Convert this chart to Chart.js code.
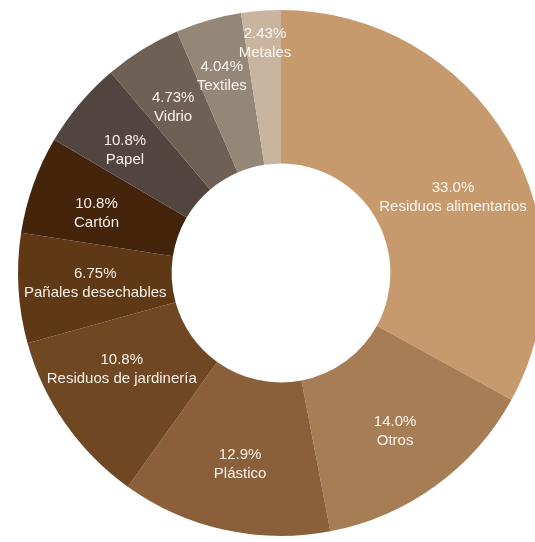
<!DOCTYPE html>
<html>
<head>
<meta charset="utf-8">
<script src="https://cdn.jsdelivr.net/npm/chart.js@4"></script>
<style>
  html, body { margin: 0; padding: 0; background: #ffffff; overflow: hidden; width: 535px; height: 542px; }
  #wrap { position: absolute; left: 0; top: 0; width: 562px; height: 546px; }
</style>
</head>
<body>
<div id="wrap"><canvas id="c" width="562" height="546"></canvas></div>
<script>
// Categories, clockwise from the top
const categories = [
  "Residuos alimentarios", "Otros", "Plástico", "Residuos de jardinería",
  "Pañales desechables", "Cartón", "Papel", "Vidrio", "Textiles", "Metales"
];
// Slice sizes (percent of total)
const sliceValues = [33.0, 14.0, 12.9, 10.8, 6.75, 6.0, 5.35, 4.73, 4.04, 2.43];
// Percent texts printed on the slices
const percentLabels = ["33.0%", "14.0%", "12.9%", "10.8%", "6.75%", "10.8%", "10.8%", "4.73%", "4.04%", "2.43%"];

const sliceColors = [
  "#C69A6D", "#A67D55", "#8A5F3A", "#6F4723", "#5F3916",
  "#45240C", "#524540", "#6F6055", "#958777", "#C9B4A0"
];

// label placement tweaks (angle shift in degrees, distance from centre in px)
const labelAngleShift = [6.8, 0.2, -0.3, 3.8, 0.2, -1.6, -1.7, -1.2, -0.7, 0.4];
const labelDistance   = [188, 195, 195, 186, 186, 194, 199, 198, 206, 231];

const sliceLabels = {
  id: 'sliceLabels',
  afterDatasetsDraw(chart) {
    const ctx = chart.ctx;
    const meta = chart.getDatasetMeta(0);
    ctx.save();
    ctx.fillStyle = 'rgba(255,250,244,0.95)';
    ctx.font = '15px "Liberation Sans", Arial, sans-serif';
    ctx.textAlign = 'center';
    ctx.textBaseline = 'middle';
    meta.data.forEach((arc, i) => {
      const p = arc.getProps(['x', 'y', 'startAngle', 'endAngle'], true);
      const mid = (p.startAngle + p.endAngle) / 2 + labelAngleShift[i] * Math.PI / 180;
      const r = labelDistance[i];
      const cx = p.x + Math.cos(mid) * r;
      const cy = p.y + Math.sin(mid) * r;
      ctx.fillText(percentLabels[i], cx, cy - 9);
      ctx.fillText(categories[i], cx, cy + 10);
    });
    ctx.restore();
  }
};

new Chart(document.getElementById('c'), {
  type: 'doughnut',
  data: {
    labels: categories,
    datasets: [{
      data: sliceValues,
      backgroundColor: sliceColors,
      borderWidth: 0
    }]
  },
  options: {
    responsive: false,
    animation: false,
    cutout: '41.6%',
    layout: { padding: { left: 18, right: 18, top: 10, bottom: 10 } },
    plugins: {
      legend: { display: false },
      tooltip: { enabled: false }
    }
  },
  plugins: [sliceLabels]
});
</script>
</body>
</html>
